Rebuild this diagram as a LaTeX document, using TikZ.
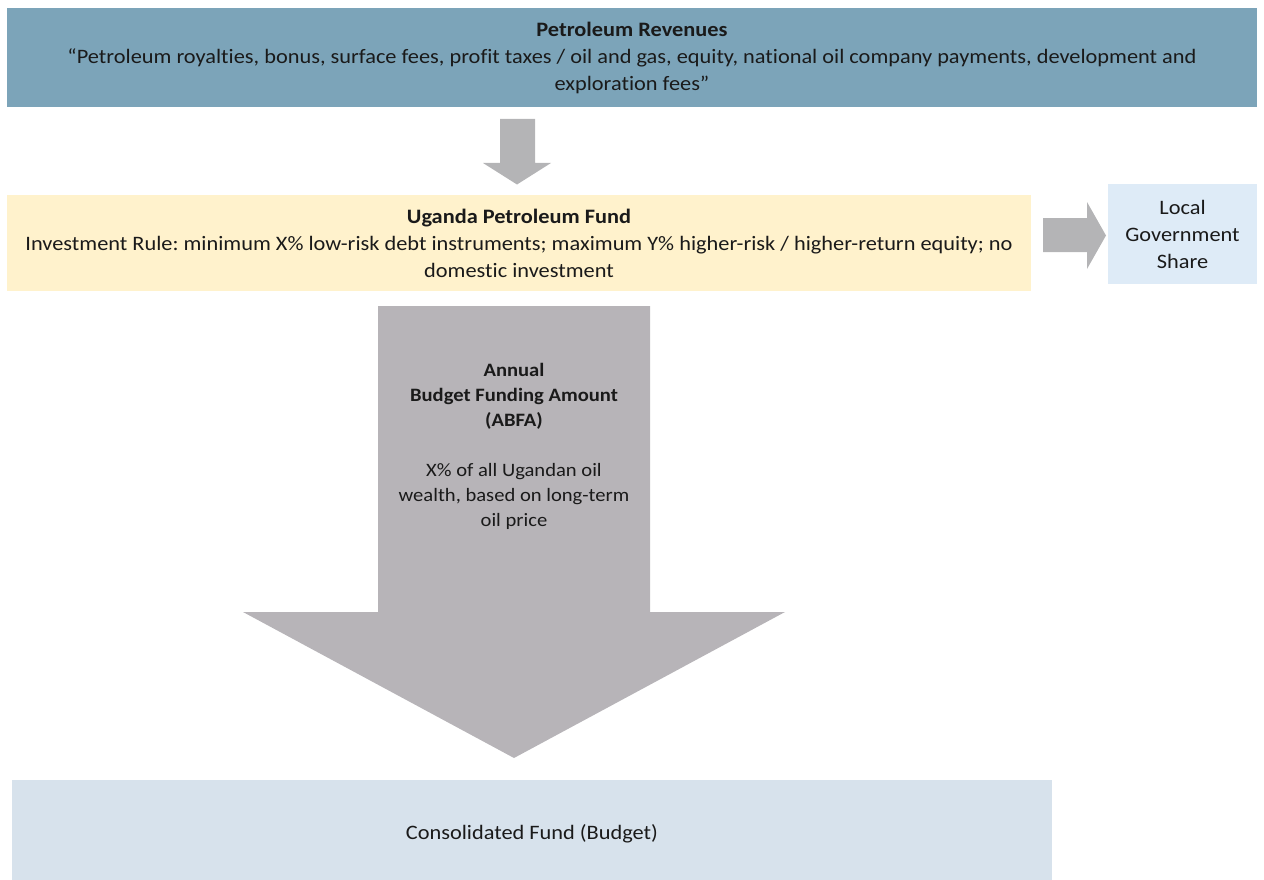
\documentclass[tikz,border=0pt]{standalone}
\usepackage{fontspec}
\setmainfont{Carlito}[FakeStretch=1.09, Ligatures=NoCommon]
\frenchspacing
\definecolor{topblue}{HTML}{7CA4B9}
\definecolor{fundyellow}{HTML}{FFF2CC}
\definecolor{localblue}{HTML}{DEEBF7}
\definecolor{consblue}{HTML}{D7E2EC}
\definecolor{arrowgrey}{HTML}{B7B4B8}
\definecolor{smallgrey}{HTML}{B4B4B6}
\definecolor{txt}{HTML}{1A1A1A}
\tikzset{
  box/.style={draw=none, inner sep=0pt, align=center, text=txt,
    font=\fontsize{20.5}{27}\selectfont},
  arrowtext/.style={inner sep=0pt, align=center, text=txt,
    font=\fontsize{18.9}{25}\selectfont},
}
\begin{document}
\begin{tikzpicture}[x=1pt,y=-1pt]
\useasboundingbox (0,0) rectangle (1264,880);
% boxes
\node[box, fill=topblue, minimum width=1250pt, minimum height=99pt] (rev) at (632,57.5)
  {\textbf{Petroleum Revenues}\\
   “Petroleum royalties, bonus, surface fees, profit taxes / oil and gas, equity, national oil company payments, development and\\
   exploration fees”};
\node[box, fill=fundyellow, minimum width=1024pt, minimum height=96pt] (fund) at (519,243)
  {\textbf{Uganda Petroleum Fund}\\
   Investment Rule: minimum X\% low-risk debt instruments; maximum Y\% higher-risk / higher-return equity; no\\
   domestic investment};
\node[box, fill=localblue, minimum width=149pt, minimum height=100pt] (local) at (1182.5,234)
  {Local\\Government\\Share};
\fill[consblue] (12,780) rectangle (1052,880);
\node[box] (cons) at (532,834) {Consolidated Fund (Budget)};
% small down arrow
\fill[smallgrey] (500,119) -- (535,119) -- (535,163) -- (551,163) -- (517,184.5)
  -- (483,163) -- (500,163) -- cycle;
% right arrow
\fill[smallgrey] (1043,218) -- (1087,218) -- (1087,202) -- (1106,235.5) -- (1087,269)
  -- (1087,252) -- (1043,252) -- cycle;
% big down arrow
\fill[arrowgrey] (378,306) -- (650,306) -- (650,612) -- (785,612) -- (514,758)
  -- (243,612) -- (378,612) -- cycle;
\node[arrowtext] (abfa) at (514,446)
  {\textbf{Annual}\\
   \textbf{Budget Funding Amount}\\
   \textbf{(ABFA)}\\[25pt]
   X\% of all Ugandan oil\\
   wealth, based on long-term\\
   oil price};
\end{tikzpicture}
\end{document}
